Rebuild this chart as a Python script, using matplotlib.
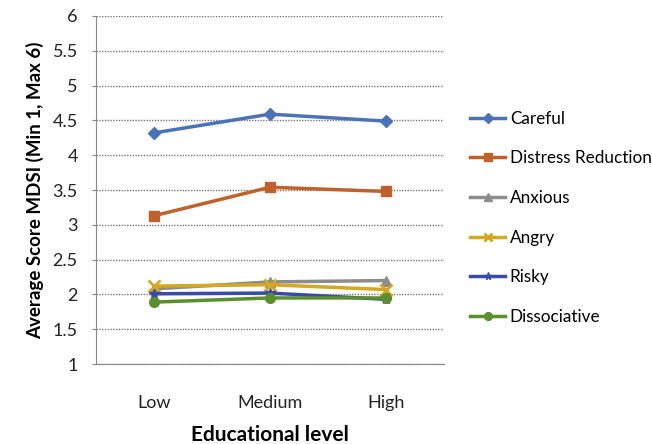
import matplotlib.pyplot as plt

levels = ['Low', 'Medium', 'High']
careful = [4.32, 4.59, 4.49]
distress = [3.13, 3.54, 3.48]
anxious = [2.08, 2.18, 2.20]
angry = [2.12, 2.14, 2.07]
risky = [2.01, 2.02, 1.93]
dissociative = [1.89, 1.95, 1.95]

series = [
    ('Careful', careful, '#4a72b8', 'D', 6),
    ('Distress Reduction', distress, '#c0602a', 's', 7),
    ('Anxious', anxious, '#8c8c8c', '^', 7),
    ('Angry', angry, '#d4a820', 'x', 8),
    ('Risky', risky, '#3a4aa8', '*', 7),
    ('Dissociative', dissociative, '#5b8f2e', 'o', 7),
]

plt.rcParams['font.family'] = ['Lato', 'DejaVu Sans']

fig = plt.figure(figsize=(6.52, 4.44), dpi=100)
ax = fig.add_axes([0.147, 0.180, 0.534, 0.784])

x = range(len(levels))
for name, vals, color, marker, ms in series:
    ax.plot(x, vals, color=color, lw=2.5, marker=marker, ms=ms,
            mew=2 if marker == 'x' else 1, label=name)

ax.set_xlim(-0.5, 2.5)
ax.set_ylim(1, 6)
ax.set_yticks([1, 1.5, 2, 2.5, 3, 3.5, 4, 4.5, 5, 5.5, 6])
ax.set_yticklabels(['1', '1.5', '2', '2.5', '3', '3.5', '4', '4.5', '5', '5.5', '6'])
ax.set_xticks(list(x))
ax.set_xticklabels(levels)
ax.tick_params(axis='both', labelsize=13, colors='#222222', length=0)
ax.tick_params(axis='x', pad=22)
ax.tick_params(axis='y', length=3, color='#888888', pad=10)

ax.grid(axis='y', color='#777777', linestyle=(0, (1, 1)), linewidth=1)
ax.set_axisbelow(True)
for s in ['top', 'right']:
    ax.spines[s].set_visible(False)
for s in ['left', 'bottom']:
    ax.spines[s].set_color('#888888')

ax.set_ylabel('Average Score MDSI (Min 1, Max 6)', fontsize=13.5, fontweight='bold', labelpad=6)
ax.set_xlabel('Educational level', fontsize=15, fontweight='bold', labelpad=10)

fig.legend(loc='upper left', bbox_to_anchor=(0.698, 0.785), frameon=False,
           fontsize=12.3, labelspacing=1.38, handlelength=2.0, handletextpad=0.3,
           markerscale=0.8)

plt.savefig('out.png', dpi=100)
plt.close()
